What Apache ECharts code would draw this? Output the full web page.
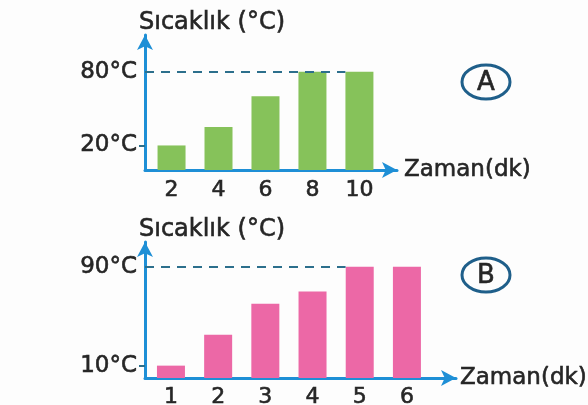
<!DOCTYPE html>
<html>
<head>
<meta charset="utf-8">
<script src="https://cdn.jsdelivr.net/npm/echarts@6/dist/echarts.min.js"></script>
<style>html,body{margin:0;padding:0;background:#fdfdfd;}#c{width:588px;height:405px;}</style>
</head>
<body>
<div id="c"></div>
<script>
// Chart A (green)
var timesA = [2, 4, 6, 8, 10];
var tempsA = [20, 35, 60, 80, 80];
var yTicksA = [20, 80];
// Chart B (pink)
var timesB = [1, 2, 3, 4, 5, 6];
var tempsB = [10, 35, 60, 70, 90, 90];
var yTicksB = [10, 90];

var yName = 'Sıcaklık (°C)';
var xName = 'Zaman(dk)';
var FONT = 'DejaVu Sans';
var AXIS = '#1e8fd6';
var DASH = '#2c6f8c';
var TXT = '#262626';
var HEAVY = {textBorderColor: TXT, textBorderWidth: 0.6};

function xAxis(idx, vals, min, max, gap, margin) {
  return {
    type: 'value', gridIndex: idx, min: min, max: max,
    name: xName, nameLocation: 'end', nameGap: gap,
    nameTextStyle: Object.assign({fontFamily: FONT, fontSize: 23, color: TXT}, HEAVY),
    axisLine: {show: true, symbol: ['none', 'arrow'], symbolSize: [12, 15], lineStyle: {color: AXIS, width: 3}},
    axisTick: {show: false},
    splitLine: {show: false},
    axisLabel: Object.assign({customValues: vals, fontFamily: FONT, fontSize: 22, color: TXT, margin: margin}, HEAVY)
  };
}
function yAxis(idx, ticks, max) {
  return {
    type: 'value', gridIndex: idx, min: 0, max: max,
    name: yName, nameLocation: 'end', nameGap: 0,
    nameTextStyle: Object.assign({fontFamily: FONT, fontSize: 24, color: TXT, align: 'left', padding: [0, 0, 0, -6]}, HEAVY),
    axisLine: {show: true, symbol: ['none', 'arrow'], symbolSize: [12, 15], lineStyle: {color: AXIS, width: 3}},
    axisTick: {show: true, customValues: [ticks[0]], length: 6, lineStyle: {color: DASH, width: 2}},
    splitLine: {show: false},
    axisLabel: Object.assign({customValues: ticks, formatter: function (v) { return v + '°C'; }, fontFamily: FONT, fontSize: 23, color: TXT, margin: 8}, HEAVY)
  };
}

var chart = echarts.init(document.getElementById('c'));
chart.setOption({
  animation: false,
  backgroundColor: '#fdfdfd',
  grid: [
    {left: 145, top: 35, width: 252, height: 135, containLabel: false, outerBoundsMode: 'none'},
    {left: 145, top: 242, width: 311, height: 136, containLabel: false, outerBoundsMode: 'none'}
  ],
  xAxis: [xAxis(0, timesA, 0.87, 11.6, 7, 9), xAxis(1, timesB, 0.45, 7.04, 4, 8)],
  yAxis: [yAxis(0, yTicksA, 110), yAxis(1, yTicksB, 110)],
  series: [
    {
      type: 'bar', xAxisIndex: 0, yAxisIndex: 0, barWidth: 28,
      data: timesA.map(function (t, i) { return [t, tempsA[i]]; }),
      itemStyle: {color: '#86c25a'},
      markLine: {
        silent: true, symbol: 'none', label: {show: false},
        lineStyle: {color: DASH, type: [9, 7], width: 2},
        data: [[{coord: [0.87, yTicksA[1]]}, {coord: [9.4, yTicksA[1]]}]]
      }
    },
    {
      type: 'bar', xAxisIndex: 1, yAxisIndex: 1, barWidth: 28,
      data: timesB.map(function (t, i) { return [t, tempsB[i]]; }),
      itemStyle: {color: '#ec68a6'},
      markLine: {
        silent: true, symbol: 'none', label: {show: false},
        lineStyle: {color: DASH, type: [9, 7], width: 2},
        data: [[{coord: [0.45, yTicksB[1]]}, {coord: [4.7, yTicksB[1]]}]]
      }
    }
  ],
  graphic: [
    {type: 'ellipse', shape: {cx: 486, cy: 82, rx: 24, ry: 17}, style: {fill: 'none', stroke: '#1f5f8a', lineWidth: 3}},
    {type: 'text', x: 486, y: 83, style: {text: 'A', fontFamily: FONT, fontSize: 26, fill: TXT, stroke: TXT, lineWidth: 0.6, align: 'center', verticalAlign: 'middle'}},
    {type: 'ellipse', shape: {cx: 486, cy: 275, rx: 24, ry: 17}, style: {fill: 'none', stroke: '#1f5f8a', lineWidth: 3}},
    {type: 'text', x: 486, y: 276, style: {text: 'B', fontFamily: FONT, fontSize: 26, fill: TXT, stroke: TXT, lineWidth: 0.6, align: 'center', verticalAlign: 'middle'}}
  ]
});
</script>
</body>
</html>
